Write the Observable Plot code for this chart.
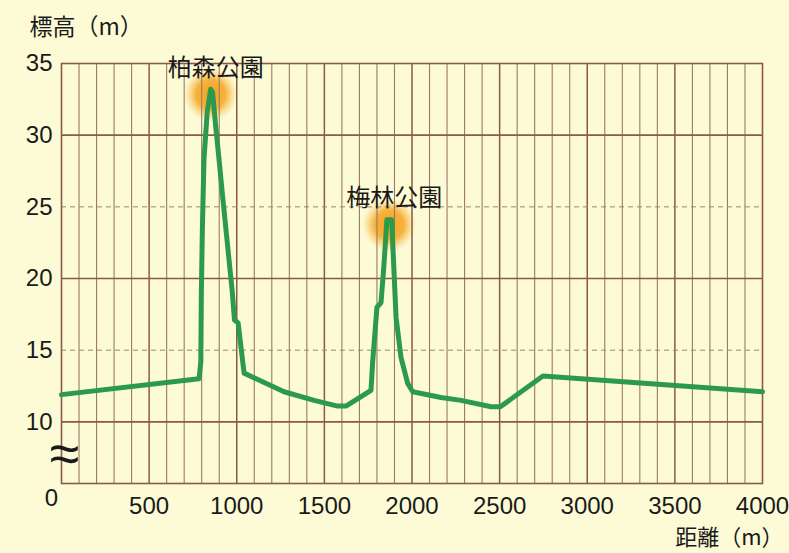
<!DOCTYPE html>
<html>
<head>
<meta charset="utf-8">
<script src="https://cdn.jsdelivr.net/npm/d3@7"></script>
<script src="https://cdn.jsdelivr.net/npm/@observablehq/plot@0.6"></script>
<style>
  html, body { margin: 0; padding: 0; background: #fcfbd6; }
  #chart svg { display: block; }
</style>
</head>
<body>
<div id="chart"></div>
<script>
// Distance (m) and elevation (m) along the profile
const dist = [0, 785, 795, 798, 804, 813, 832, 851, 862, 880, 899, 918, 937, 956, 975, 987, 1008, 1033, 1042, 1270, 1442, 1575, 1623, 1766, 1775, 1800, 1823, 1838, 1857, 1884, 1909, 1937, 1975, 2004, 2166, 2280, 2451, 2504, 2747, 4000];
const elev = [11.9, 13.0, 14.2, 19.0, 23.6, 28.3, 31.7, 33.2, 33.0, 30.6, 28.3, 25.9, 23.6, 21.3, 19.0, 17.1, 16.9, 14.3, 13.4, 12.1, 11.5, 11.1, 11.1, 12.2, 14.1, 18.0, 18.3, 20.6, 24.1, 24.1, 17.3, 14.5, 12.7, 12.1, 11.7, 11.5, 11.05, 11.05, 13.2, 12.1];

// Parks (peaks)
const parkNames = ["柏森公園", "梅林公園"];
const parkDist = [851, 1870];
const parkElev = [33.2, 24.1];

// Axis ticks
const xTicks = [500, 1000, 1500, 2000, 2500, 3000, 3500, 4000];
const yTicks = [10, 15, 20, 25, 30, 35];
const ySolid = [10, 20, 30];
const yDashed = [15, 25];
const xGridMajor = [500, 1000, 1500, 2000, 2500, 3000, 3500];
const xGridMinor = d3.range(100, 4000, 100).filter(v => v % 500 !== 0);

const profile = dist.map((d, i) => ({d, e: elev[i]}));
const parks = parkNames.map((n, i) => ({name: n, d: parkDist[i], e: parkElev[i]}));

const brown = "#8a5a48";
const GLOW = "#f5a624";
const jp = "Noto Sans CJK JP";
const mid = {textAnchor: "middle", lineAnchor: "middle"};

const svg = Plot.plot({
  width: 789,
  height: 553,
  marginLeft: 61,
  marginRight: 27,
  marginTop: 63,
  marginBottom: 70,
  style: {background: "#fcfbd6", fontFamily: "Liberation Sans, Arial, sans-serif", fontSize: "24px", color: "#1a1a1a"},
  x: {domain: [0, 4000], ticks: xTicks, tickSize: 0, tickPadding: 13, tickFormat: d => String(d), label: null},
  y: {domain: [5.7, 35], ticks: yTicks, tickSize: 0, tickPadding: 9, tickFormat: d => String(d), label: null},
  marks: [
    Plot.dot(parks, {x: "d", y: "e", r: 27, fill: GLOW, dy: 5}),
    Plot.ruleX(xGridMinor, {stroke: "#9a7b66", strokeWidth: 1.1}),
    Plot.ruleX(xGridMajor, {stroke: brown, strokeWidth: 1.5}),
    Plot.ruleY(yDashed, {stroke: "#a08472", strokeWidth: 1, strokeDasharray: "5,4"}),
    Plot.ruleY(ySolid, {stroke: brown, strokeWidth: 1.6}),
    Plot.frame({stroke: brown, strokeWidth: 1.6}),
    Plot.line(profile, {x: "d", y: "e", stroke: "#2c9a4c", strokeWidth: 5, strokeLinejoin: "round", strokeLinecap: "round"}),
    Plot.text(parks, {x: "d", y: "e", text: "name", dx: 5, dy: -21, fontSize: 24, fontFamily: jp, fill: "#1a1a1a"}),
    Plot.text(["標高（m）"], {frameAnchor: "top-left", dx: -32, dy: -36, textAnchor: "start", lineAnchor: "middle", fontSize: 23, fontFamily: jp, fill: "#1a1a1a"}),
    Plot.text(["距離（m）"], {frameAnchor: "bottom-right", dx: 21, dy: 54, textAnchor: "end", lineAnchor: "middle", fontSize: 22, fontFamily: jp, fill: "#1a1a1a"}),
    Plot.text(["0"], {frameAnchor: "bottom-left", ...mid, dx: -10, dy: 15, fontSize: 24, fill: "#1a1a1a"}),
    Plot.text(["≈"], {frameAnchor: "bottom-left", ...mid, dx: 3, dy: -29, fontSize: 54, fontFamily: "Liberation Sans", fill: "#1a1a1a"})
  ]
});

// radial glow gradient for the park markers
const s = d3.select(svg);
const defs = s.insert("defs", ":first-child");
const g = defs.append("radialGradient").attr("id", "glow");
g.append("stop").attr("offset", "0%").attr("stop-color", "#f39c12").attr("stop-opacity", 0.95);
g.append("stop").attr("offset", "55%").attr("stop-color", "#f5a623").attr("stop-opacity", 0.85);
g.append("stop").attr("offset", "100%").attr("stop-color", "#f8c560").attr("stop-opacity", 0);
s.selectAll(`[fill="${GLOW}"]`).attr("fill", "url(#glow)");
s.selectAll("circle").attr("fill", null);

document.getElementById("chart").appendChild(svg);
</script>
</body>
</html>
